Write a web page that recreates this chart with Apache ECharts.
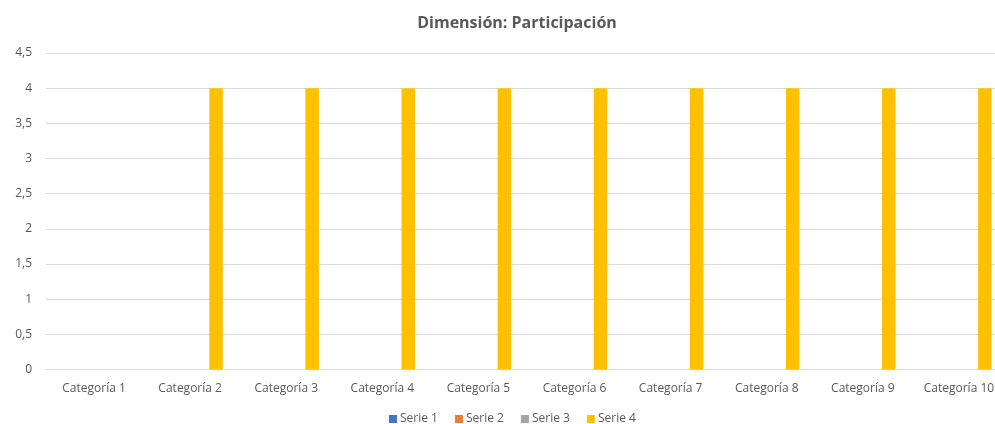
<!DOCTYPE html>
<html>
<head>
<meta charset="utf-8">
<script src="https://cdn.jsdelivr.net/npm/echarts@6/dist/echarts.min.js"></script>
<style>
  html, body { margin: 0; padding: 0; background: #fff; overflow: hidden; }
  #chart { width: 1007px; height: 424px; }
</style>
</head>
<body>
<div id="chart"></div>
<script>
  // datos
  var categorias = ['Categoría 1', 'Categoría 2', 'Categoría 3', 'Categoría 4', 'Categoría 5',
    'Categoría 6', 'Categoría 7', 'Categoría 8', 'Categoría 9', 'Categoría 10'];
  var serie1 = [0, 0, 0, 0, 0, 0, 0, 0, 0, 0];
  var serie2 = [0, 0, 0, 0, 0, 0, 0, 0, 0, 0];
  var serie3 = [0, 0, 0, 0, 0, 0, 0, 0, 0, 0];
  var serie4 = [0, 4, 4, 4, 4, 4, 4, 4, 4, 4];
  var nombres = ['Serie 1', 'Serie 2', 'Serie 3', 'Serie 4'];
  var colores = ['#4472C4', '#ED7D31', '#A5A5A5', '#FFC000'];

  var fuente = '"Open Sans", "Noto Sans", sans-serif';
  var chart = echarts.init(document.getElementById('chart'));

  function barra(nombre, datos) {
    return {
      name: nombre,
      type: 'bar',
      barWidth: 13.5,
      barGap: '28%',
      data: datos
    };
  }

  chart.setOption({
    color: colores,
    animation: false,
    title: {
      text: 'Dimensión: Participación',
      left: 512,
      textAlign: 'center',
      top: 10,
      textStyle: { fontFamily: fuente, fontSize: 16, fontWeight: 'bold', color: '#595959' }
    },
    legend: {
      data: nombres,
      left: 389,
      top: 413,
      padding: 0,
      itemWidth: 8,
      itemHeight: 8,
      itemGap: 17,
      icon: 'rect',
      textStyle: { fontFamily: fuente, fontSize: 12, color: '#595959', padding: [0, 0, 0, -2] }
    },
    grid: { left: 46, right: 0, top: 53, bottom: 54.5 },
    xAxis: {
      type: 'category',
      data: categorias,
      axisTick: { show: false },
      axisLine: { lineStyle: { color: '#d9d9d9' } },
      axisLabel: { fontFamily: fuente, fontSize: 12, color: '#595959', margin: 13, interval: 0 }
    },
    yAxis: {
      type: 'value',
      min: 0,
      max: 4.5,
      interval: 0.5,
      axisLabel: {
        fontFamily: fuente, fontSize: 12, color: '#595959', margin: 14,
        formatter: function (v) { return String(v).replace('.', ','); }
      },
      splitLine: { lineStyle: { color: '#d9d9d9' } }
    },
    series: [
      barra(nombres[0], serie1),
      barra(nombres[1], serie2),
      barra(nombres[2], serie3),
      barra(nombres[3], serie4)
    ]
  });
</script>
</body>
</html>
